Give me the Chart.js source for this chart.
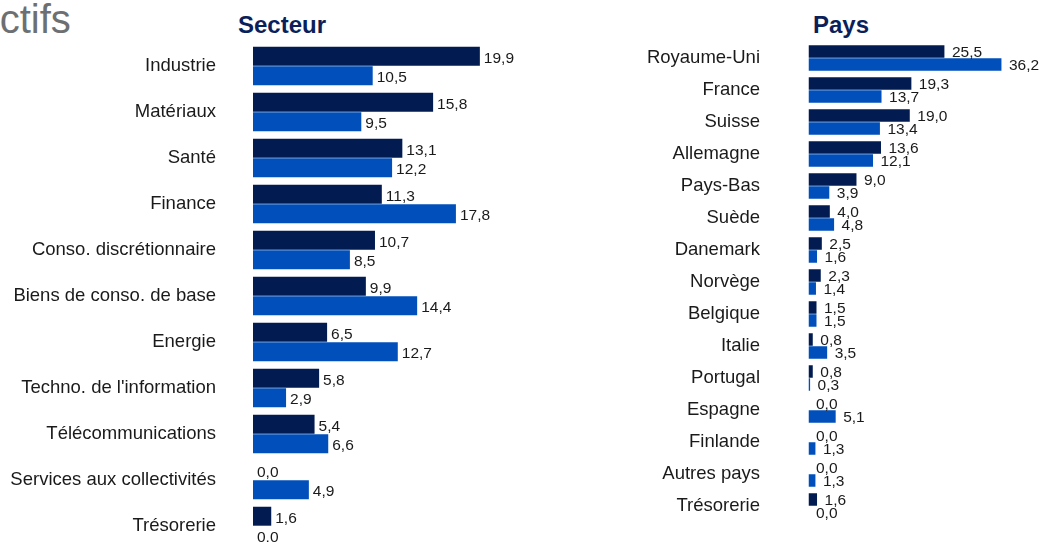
<!DOCTYPE html>
<html lang="fr">
<head>
<meta charset="utf-8">
<script src="https://cdn.jsdelivr.net/npm/chart.js@4.4.1/dist/chart.umd.min.js"></script>
<style>
  html, body { margin: 0; width: 1043px; height: 542px; overflow: hidden; background: #fff; font-family: "Liberation Sans", Arial, sans-serif; }
  .titre { position: absolute; left: -27px; top: -1px; font-size: 40px; line-height: 40px; color: #6d7072; white-space: nowrap; }
  .sous-titre { position: absolute; top: 13px; font-size: 24px; line-height: 24px; font-weight: bold; color: #0b1f5b; }
  #boxSecteur { position: absolute; left: 0; top: 0; width: 560px; height: 560px; }
  #boxPays { position: absolute; left: 560px; top: 0; width: 483px; height: 542px; }
</style>
</head>
<body>
<div class="titre">Actifs</div>
<div class="sous-titre" style="left:238px">Secteur</div>
<div class="sous-titre" style="left:813px">Pays</div>
<div id="boxSecteur"><canvas id="chartSecteur"></canvas></div>
<div id="boxPays"><canvas id="chartPays"></canvas></div>
<script>
// Répartition par secteur (%)
const secteurs = ['Industrie', 'Matériaux', 'Santé', 'Finance', 'Conso. discrétionnaire', 'Biens de conso. de base',
  'Energie', "Techno. de l'information", 'Télécommunications', 'Services aux collectivités', 'Trésorerie'];
const secteurFonds = [19.9, 15.8, 13.1, 11.3, 10.7, 9.9, 6.5, 5.8, 5.4, 0.0, 1.6];
const secteurIndice = [10.5, 9.5, 12.2, 17.8, 8.5, 14.4, 12.7, 2.9, 6.6, 4.9, 0.0];

// Répartition par pays (%)
const pays = ['Royaume-Uni', 'France', 'Suisse', 'Allemagne', 'Pays-Bas', 'Suède', 'Danemark', 'Norvège',
  'Belgique', 'Italie', 'Portugal', 'Espagne', 'Finlande', 'Autres pays', 'Trésorerie'];
const paysFonds = [25.5, 19.3, 19.0, 13.6, 9.0, 4.0, 2.5, 2.3, 1.5, 0.8, 0.8, 0.0, 0.0, 0.0, 1.6];
const paysIndice = [36.2, 13.7, 13.4, 12.1, 3.9, 4.8, 1.6, 1.4, 1.5, 3.5, 0.3, 5.1, 1.3, 1.3, 0.0];

const BLEU_FONCE = '#021b50';
const BLEU = '#004fbb';
const POLICE = '"Liberation Sans", Arial, sans-serif';

// Affiche la valeur au bout de chaque barre (virgule décimale)
const etiquettesValeurs = {
  id: 'etiquettesValeurs',
  afterDatasetsDraw(chart, args, opts) {
    const ctx = chart.ctx;
    ctx.save();
    ctx.font = '15.5px ' + POLICE;
    ctx.fillStyle = '#1a1a1a';
    ctx.textAlign = 'left';
    ctx.textBaseline = 'middle';
    chart.data.datasets.forEach((ds, i) => {
      chart.getDatasetMeta(i).data.forEach((bar, j) => {
        const txt = ds.data[j].toFixed(1).replace('.', ',');
        ctx.fillText(txt, bar.x + opts.decalage, bar.y + opts.baisse);
      });
    });
    ctx.restore();
  }
};

function graphique(id, labels, fonds, indice, r) {
  return new Chart(document.getElementById(id), {
    type: 'bar',
    data: {
      labels: labels,
      datasets: [
        { label: 'Fonds', data: fonds, backgroundColor: BLEU_FONCE, borderWidth: 0,
          categoryPercentage: r.cp, barPercentage: r.bp },
        { label: 'Indice', data: indice, backgroundColor: BLEU, borderWidth: 0,
          categoryPercentage: r.cp, barPercentage: r.bp }
      ]
    },
    plugins: [etiquettesValeurs],
    options: {
      indexAxis: 'y',
      responsive: true,
      maintainAspectRatio: false,
      animation: false,
      layout: { padding: r.padding },
      scales: {
        x: { display: false, min: 0, max: r.max },
        y: {
          grid: { display: false, drawTicks: false },
          border: { display: false },
          ticks: { padding: r.tickPadding, color: '#1a1a1a', font: { family: POLICE, size: 18.5 } },
          afterFit(scale) {
            // largeur fixe de l'axe, sans marge verticale ajoutée par le padding des libellés
            scale.width = r.largeurAxe;
            scale.paddingTop = 0;
            scale.paddingBottom = 0;
          }
        }
      },
      plugins: {
        legend: { display: false },
        tooltip: { enabled: false },
        etiquettesValeurs: { decalage: r.decalage, baisse: r.baisse }
      }
    }
  });
}

graphique('chartSecteur', secteurs, secteurFonds, secteurIndice, {
  cp: 0.85, bp: 0.97, max: 25,
  padding: { top: 43, bottom: 11, left: 0, right: 22 },
  largeurAxe: 253, tickPadding: 37, decalage: 4, baisse: 2
});

graphique('chartPays', pays, paysFonds, paysIndice, {
  cp: 0.8125, bp: 0.95, max: 40,
  padding: { top: 42, bottom: 20, left: 0, right: 21.3 },
  largeurAxe: 248.5, tickPadding: 48.5, decalage: 7.5, baisse: 1.5
});
</script>
</body>
</html>
